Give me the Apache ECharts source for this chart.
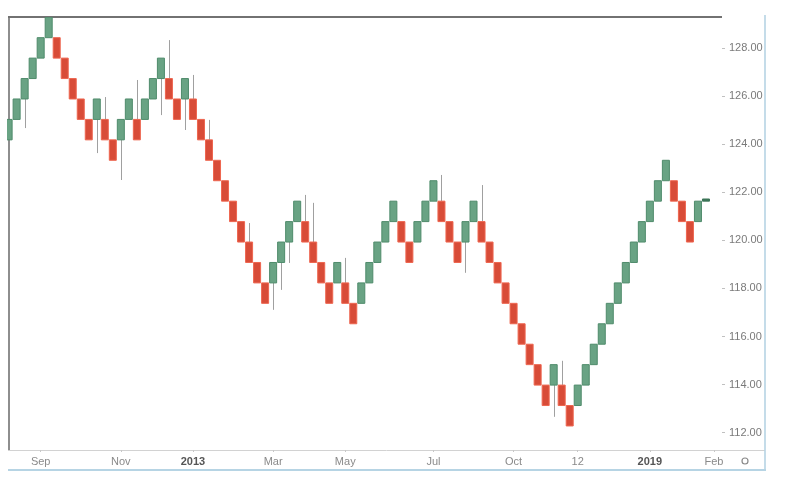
<!DOCTYPE html>
<html>
<head>
<meta charset="utf-8">
<style>
html,body{margin:0;padding:0;background:#fff;}
#chart{width:800px;height:477px;}
</style>
<script src="https://cdn.jsdelivr.net/npm/echarts@6/dist/echarts.min.js"></script>
</head>
<body>
<div id="chart"></div>
<script>
// Renko bricks (position index = order of bricks)
const brickOpen = [
  124.18,125.03,125.88,126.73,127.58,128.43,128.43,127.58,126.73,125.88,
  125.03,125.03,125.03,124.18,124.18,125.03,125.03,125.03,125.88,126.73,
  126.73,125.88,125.88,125.88,125.03,124.18,123.33,122.48,121.63,120.78,
  119.93,119.08,118.23,118.23,119.08,119.93,120.78,120.78,119.93,119.08,
  118.23,118.23,118.23,117.38,117.38,118.23,119.08,119.93,120.78,120.78,
  119.93,119.93,120.78,121.63,121.63,120.78,119.93,119.93,120.78,120.78,
  119.93,119.08,118.23,117.38,116.53,115.68,114.83,113.98,113.98,113.98,
  113.13,113.13,113.98,114.83,115.68,116.53,117.38,118.23,119.08,119.93,
  120.78,121.63,122.48,122.48,121.63,120.78,120.78,121.63
];
const brickClose = [
  125.03,125.88,126.73,127.58,128.43,129.28,127.58,126.73,125.88,125.03,
  124.18,125.88,124.18,123.33,125.03,125.88,124.18,125.88,126.73,127.58,
  125.88,125.03,126.73,125.03,124.18,123.33,122.48,121.63,120.78,119.93,
  119.08,118.23,117.38,119.08,119.93,120.78,121.63,119.93,119.08,118.23,
  117.38,119.08,117.38,116.53,118.23,119.08,119.93,120.78,121.63,119.93,
  119.08,120.78,121.63,122.48,120.78,119.93,119.08,120.78,121.63,119.93,
  119.08,118.23,117.38,116.53,115.68,114.83,113.98,113.13,114.83,113.13,
  112.28,113.98,114.83,115.68,116.53,117.38,118.23,119.08,119.93,120.78,
  121.63,122.48,123.33,121.63,120.78,119.93,121.63,121.72
];
// wick extremes (null = no visible wick)
const brickLow = [
  null,null,124.67,null,null,null,null,null,null,null,
  null,123.63,null,null,122.51,null,null,null,null,125.21,
  null,null,124.59,null,null,null,null,null,null,null,
  null,null,null,117.11,117.94,119.06,null,null,null,null,
  null,null,null,null,null,null,null,null,null,null,
  null,null,null,null,null,null,null,118.65,null,null,
  null,null,null,null,null,null,null,null,112.66,null,
  null,null,null,null,null,null,null,null,null,null,
  null,null,null,null,null,null,null,null
];
const brickHigh = [
  null,null,null,null,null,null,null,null,null,null,
  null,null,125.96,null,null,null,126.67,null,null,null,
  128.33,null,null,126.88,null,125.01,null,null,null,null,
  120.72,null,null,null,null,null,null,121.89,121.56,null,
  null,null,119.27,null,null,null,null,null,null,null,
  null,null,null,null,122.72,null,null,null,null,122.30,
  null,null,null,null,null,null,null,null,null,114.99,
  null,null,null,null,null,null,null,null,null,null,
  null,null,null,null,null,null,null,null
];
const xTickPos = [4, 14, 23, 33, 42, 53, 63, 71, 80, 88];
const xTickLabels = ['Sep', 'Nov', '2013', 'Mar', 'May', 'Jul', 'Oct', '12', '2019', 'Feb'];
const yTicks = [112, 114, 116, 118, 120, 122, 124, 126, 128];

const data = brickOpen.map((o, i) => {
  const c = brickClose[i];
  const lo = brickLow[i] != null ? brickLow[i] : Math.min(o, c);
  const hi = brickHigh[i] != null ? brickHigh[i] : Math.max(o, c);
  return [i, o, c, lo, hi];
});

const chart = echarts.init(document.getElementById('chart'), null, {renderer: 'canvas'});

function renderBrick(params, api) {
  const i = api.value(0), o = api.value(1), c = api.value(2), lo = api.value(3), hi = api.value(4);
  const top = Math.max(o, c), bot = Math.min(o, c);
  const w = api.size([1, 0])[0];
  const pt = api.coord([i, top]);
  const pb = api.coord([i, bot]);
  const cx = Math.round(pt[0]) + 0.5;
  const up = c >= o;
  const thin = Math.abs(c - o) < 0.3;
  const children = [];
  if (hi > top + 0.001) {
    const ph = api.coord([i, hi]);
    children.push({type: 'line', shape: {x1: cx, y1: ph[1], x2: cx, y2: pt[1]}, style: {stroke: '#a0a0a0', lineWidth: 1}});
  }
  if (lo < bot - 0.001) {
    const pl = api.coord([i, lo]);
    children.push({type: 'line', shape: {x1: cx, y1: pb[1], x2: cx, y2: pl[1]}, style: {stroke: '#a0a0a0', lineWidth: 1}});
  }
  children.push({
    type: 'rect',
    shape: {x: pt[0] - w / 2 + 0.5, y: pt[1], width: w - 1, height: pb[1] - pt[1]},
    style: thin ? {fill: '#3d7558', stroke: '#3d7558', lineWidth: 1}
                : (up ? {fill: '#69a384', stroke: '#4f8b6b', lineWidth: 1}
                      : {fill: '#d84c38', stroke: '#ee6650', lineWidth: 1})
  });
  return {type: 'group', children};
}

const option = {
  animation: false,
  backgroundColor: '#ffffff',
  grid: {left: 7, right: 78, top: 17, bottom: 27, containLabel: false},
  xAxis: {
    type: 'value',
    min: -0.2,
    max: 89,
    splitLine: {show: false},
    axisLine: {show: false, onZero: false},
    axisTick: {show: true, customValues: xTickPos, length: 2, lineStyle: {color: '#c8c8c8'}},
    axisLabel: {
      customValues: xTickPos,
      margin: 6,
      fontFamily: 'Liberation Sans, Arial, sans-serif',
      fontSize: 11,
      color: '#8a8a8a',
      formatter: function (v) {
        const k = xTickPos.indexOf(Math.round(v));
        const s = k >= 0 ? xTickLabels[k] : '';
        return /^\d{4}$/.test(s) ? '{b|' + s + '}' : s;
      },
      rich: {b: {fontWeight: 'bold', color: '#555', fontSize: 11, fontFamily: 'Liberation Sans, Arial, sans-serif'}}
    }
  },
  yAxis: {
    type: 'value',
    position: 'right',
    min: 111.28,
    max: 129.29,
    splitLine: {show: false},
    axisLine: {show: false, onZero: false},
    axisTick: {show: true, customValues: yTicks, length: 3, inside: false, lineStyle: {color: '#c0c0c0'}},
    axisLabel: {
      customValues: yTicks,
      margin: 7,
      fontFamily: 'Liberation Sans, Arial, sans-serif',
      fontSize: 11,
      color: '#7a7a7a',
      formatter: v => v.toFixed(2)
    }
  },
  series: [{
    type: 'custom',
    clip: true,
    renderItem: renderBrick,
    encode: {x: 0, y: [1, 2, 3, 4]},
    data: data
  }],
  graphic: [
    {type: 'line', silent: true, shape: {x1: 8, y1: 450.5, x2: 765, y2: 450.5}, style: {stroke: '#d2d2d2', lineWidth: 1}},
    {type: 'line', silent: true, shape: {x1: 8, y1: 17, x2: 722, y2: 17}, style: {stroke: '#727272', lineWidth: 1.8}},
    {type: 'line', silent: true, shape: {x1: 9, y1: 16, x2: 9, y2: 450}, style: {stroke: '#727272', lineWidth: 1.6}},
    {type: 'line', silent: true, shape: {x1: 765, y1: 15, x2: 765, y2: 471}, style: {stroke: '#b6d4e4', lineWidth: 1.6}},
    {type: 'line', silent: true, shape: {x1: 8, y1: 470, x2: 766, y2: 470}, style: {stroke: '#b6d4e4', lineWidth: 2}},
    {type: 'circle', silent: true, shape: {cx: 745, cy: 461, r: 3}, style: {fill: 'none', stroke: '#8a8a8a', lineWidth: 1.2}}
  ]
};
chart.setOption(option);
</script>
</body>
</html>
